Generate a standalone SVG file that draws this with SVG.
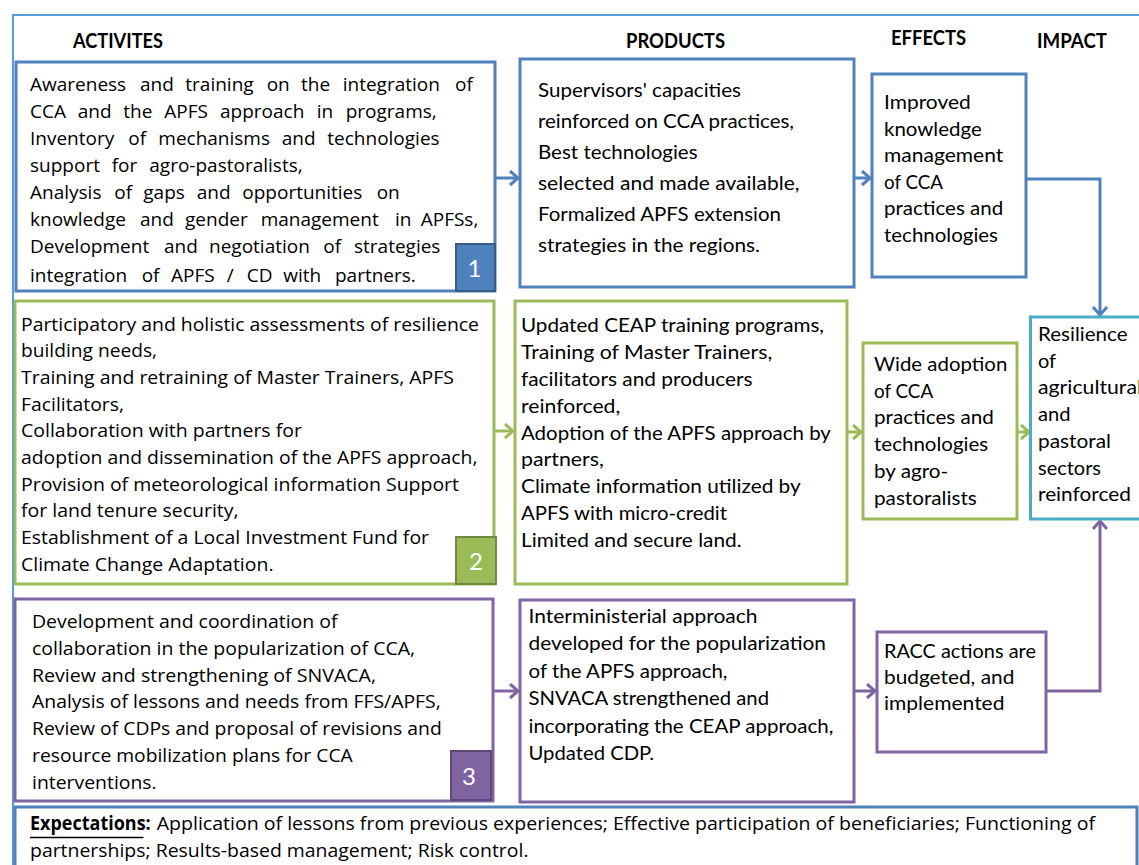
<svg xmlns="http://www.w3.org/2000/svg" width="1139" height="865" viewBox="0 0 1139 865">
<style>
.os{font-family:"Open Sans","DejaVu Sans",sans-serif;font-size:19px;fill:#000}
.cb{font-family:Lato,"Liberation Sans",sans-serif;font-size:20px;fill:#000}
.hd{font-family:Lato,"Liberation Sans",sans-serif;font-size:20px;font-weight:bold;fill:#000}
.num{font-family:Lato,"Liberation Sans",sans-serif;font-size:24px;fill:#fff;text-anchor:middle}
.box{fill:#fff;stroke-width:3}
.blue{stroke:#4f81bd}
.green{stroke:#9bbb59}
.purple{stroke:#8064a2}
.cyan{stroke:#4bacc6}
.con{fill:none;stroke-width:3}
</style>
<defs>
<marker id="aB" markerUnits="userSpaceOnUse" markerWidth="14" markerHeight="18" refX="9" refY="8" orient="auto" viewBox="0 0 14 18"><path d="M1,1 L9,8 L1,15" fill="none" stroke="#4f81bd" stroke-width="3"/></marker>
<marker id="aG" markerUnits="userSpaceOnUse" markerWidth="14" markerHeight="18" refX="9" refY="8" orient="auto" viewBox="0 0 14 18"><path d="M1,1 L9,8 L1,15" fill="none" stroke="#9bbb59" stroke-width="3"/></marker>
<marker id="aP" markerUnits="userSpaceOnUse" markerWidth="14" markerHeight="18" refX="9" refY="8" orient="auto" viewBox="0 0 14 18"><path d="M1,1 L9,8 L1,15" fill="none" stroke="#8064a2" stroke-width="3"/></marker>
</defs>
<rect width="1139" height="865" fill="#fff"/>
<g id="frame"><path d="M13,866 V15 H1140" fill="none" stroke="#5b9bd5" stroke-width="2"/></g>

<g id="headers">
<text class="hd" x="73" y="48.3" textLength="90" lengthAdjust="spacingAndGlyphs">ACTIVITES</text>
<text class="hd" x="626" y="48.3" textLength="99" lengthAdjust="spacingAndGlyphs">PRODUCTS</text>
<text class="hd" x="891" y="45" textLength="75" lengthAdjust="spacingAndGlyphs">EFFECTS</text>
<text class="hd" x="1037" y="48.3" textLength="70" lengthAdjust="spacingAndGlyphs">IMPACT</text>
</g>

<g id="connectors">
<path class="con blue" d="M495,178 H518" marker-end="url(#aB)"/>
<path class="con blue" d="M854,178 H870" marker-end="url(#aB)"/>
<path class="con blue" d="M1026,179 H1100 V315" marker-end="url(#aB)"/>
<path class="con green" d="M494,431 H513" marker-end="url(#aG)"/>
<path class="con green" d="M847,432 H861" marker-end="url(#aG)"/>
<path class="con green" d="M1017,432 H1029" marker-end="url(#aG)"/>
<path class="con purple" d="M493,691 H518" marker-end="url(#aP)"/>
<path class="con purple" d="M854,691 H875" marker-end="url(#aP)"/>
<path class="con purple" d="M1046,691 H1100 V521" marker-end="url(#aP)"/>
</g>

<g id="activity1">
<rect class="box blue" x="16" y="62" width="479" height="229"/>
<text class="os" y="91"><tspan x="30">Awareness</tspan><tspan x="140">and</tspan><tspan x="185.3">training</tspan><tspan x="266.7">on</tspan><tspan x="301">the</tspan><tspan x="342.7">integration</tspan><tspan x="455">of</tspan></text>
<text class="os" y="118.3"><tspan x="30">CCA</tspan><tspan x="77.7">and</tspan><tspan x="123.3">the</tspan><tspan x="164.3">APFS</tspan><tspan x="220">approach</tspan><tspan x="316.7">in</tspan><tspan x="345.7">programs,</tspan></text>
<text class="os" y="145"><tspan x="30">Inventory</tspan><tspan x="128.3">of</tspan><tspan x="158.3">mechanisms</tspan><tspan x="281.7">and</tspan><tspan x="327.3">technologies</tspan></text>
<text class="os" y="172.3"><tspan x="30">support</tspan><tspan x="111.7">for</tspan><tspan x="149.3">agro-pastoralists,</tspan></text>
<text class="os" y="199.3"><tspan x="30">Analysis</tspan><tspan x="114.3">of</tspan><tspan x="143.3">gaps</tspan><tspan x="196.7">and</tspan><tspan x="242.3">opportunities</tspan><tspan x="376.7">on</tspan></text>
<text class="os" y="226"><tspan x="30">knowledge</tspan><tspan x="140">and</tspan><tspan x="185">gender</tspan><tspan x="260.7">management</tspan><tspan x="395">in</tspan><tspan x="420.7">APFSs,</tspan></text>
<text class="os" y="252.7"><tspan x="30">Development</tspan><tspan x="164">and</tspan><tspan x="209">negotiation</tspan><tspan x="323.3">of</tspan><tspan x="354">strategies</tspan></text>
<text class="os" y="282"><tspan x="30">integration</tspan><tspan x="141.7">of</tspan><tspan x="171">APFS</tspan><tspan x="226.7">/</tspan><tspan x="246.7">CD</tspan><tspan x="283.3">with</tspan><tspan x="335">partners.</tspan></text>
<rect x="456" y="244" width="39" height="47" fill="#4f81bd" stroke="#385d8a" stroke-width="2"/>
<text class="num" x="474.5" y="277">1</text>
</g>

<g id="activity2">
<rect class="box green" x="15" y="301" width="479" height="283"/>
<text class="os" x="21" y="330.5" textLength="458" lengthAdjust="spacingAndGlyphs">Participatory and holistic assessments of resilience</text>
<text class="os" x="21" y="357.2" textLength="136" lengthAdjust="spacingAndGlyphs">building needs,</text>
<text class="os" x="21" y="383.9" textLength="433" lengthAdjust="spacingAndGlyphs">Training and retraining of Master Trainers, APFS</text>
<text class="os" x="21" y="410.6" textLength="103" lengthAdjust="spacingAndGlyphs">Facilitators,</text>
<text class="os" x="21" y="437.3" textLength="281" lengthAdjust="spacingAndGlyphs">Collaboration with partners for</text>
<text class="os" x="21" y="464" textLength="456.5" lengthAdjust="spacingAndGlyphs">adoption and dissemination of the APFS approach,</text>
<text class="os" x="21" y="490.7" textLength="438" lengthAdjust="spacingAndGlyphs">Provision of meteorological information Support</text>
<text class="os" x="21" y="517.4" textLength="217.5" lengthAdjust="spacingAndGlyphs">for land tenure security,</text>
<text class="os" x="21" y="544.1" textLength="408" lengthAdjust="spacingAndGlyphs">Establishment of a Local Investment Fund for</text>
<text class="os" x="21" y="570.8" textLength="252.5" lengthAdjust="spacingAndGlyphs">Climate Change Adaptation.</text>
<rect x="456" y="537" width="40" height="47" fill="#9bbb59" stroke="#71893f" stroke-width="2"/>
<text class="num" x="476" y="570">2</text>
</g>

<g id="activity3">
<rect class="box purple" x="15" y="599" width="478" height="202"/>
<text class="os" x="32" y="628.3" textLength="305.5" lengthAdjust="spacingAndGlyphs">Development and coordination of</text>
<text class="os" x="32" y="655" textLength="383" lengthAdjust="spacingAndGlyphs">collaboration in the popularization of CCA,</text>
<text class="os" x="32" y="681.7" textLength="344" lengthAdjust="spacingAndGlyphs">Review and strengthening of SNVACA,</text>
<text class="os" x="32" y="708.4" textLength="408.7" lengthAdjust="spacingAndGlyphs">Analysis of lessons and needs from FFS/APFS,</text>
<text class="os" x="32" y="735.1" textLength="409.7" lengthAdjust="spacingAndGlyphs">Review of CDPs and proposal of revisions and</text>
<text class="os" x="32" y="761.8" textLength="320.7" lengthAdjust="spacingAndGlyphs">resource mobilization plans for CCA</text>
<text class="os" x="32" y="788.5" textLength="124.7" lengthAdjust="spacingAndGlyphs">interventions.</text>
<rect x="451" y="751" width="40" height="49" fill="#8064a2" stroke="#5c4776" stroke-width="2"/>
<text class="num" x="469" y="785">3</text>
</g>

<g id="product1">
<rect class="box blue" x="520" y="59" width="334" height="228"/>
<text class="cb" x="538" y="96.7" textLength="203" lengthAdjust="spacingAndGlyphs">Supervisors' capacities</text>
<text class="cb" x="538" y="127.8" textLength="256" lengthAdjust="spacingAndGlyphs">reinforced on CCA practices,</text>
<text class="cb" x="538" y="158.9" textLength="159.6" lengthAdjust="spacingAndGlyphs">Best technologies</text>
<text class="cb" x="538" y="190" textLength="261.5" lengthAdjust="spacingAndGlyphs">selected and made available,</text>
<text class="cb" x="538" y="221.1" textLength="243" lengthAdjust="spacingAndGlyphs">Formalized APFS extension</text>
<text class="cb" x="538" y="252.2" textLength="222" lengthAdjust="spacingAndGlyphs">strategies in the regions.</text>
</g>

<g id="effect1">
<rect class="box blue" x="872" y="74" width="154" height="203"/>
<text class="cb" x="884" y="109" textLength="86.7" lengthAdjust="spacingAndGlyphs">Improved</text>
<text class="cb" x="884" y="135.5" textLength="97.7" lengthAdjust="spacingAndGlyphs">knowledge</text>
<text class="cb" x="884" y="162" textLength="119.3" lengthAdjust="spacingAndGlyphs">management</text>
<text class="cb" x="884" y="188.5" textLength="59" lengthAdjust="spacingAndGlyphs">of CCA</text>
<text class="cb" x="884" y="215" textLength="119.3" lengthAdjust="spacingAndGlyphs">practices and</text>
<text class="cb" x="884" y="241.5" textLength="114" lengthAdjust="spacingAndGlyphs">technologies</text>
</g>

<g id="product2">
<rect class="box green" x="515" y="301" width="332" height="283"/>
<text class="cb" x="521" y="332.3" textLength="303" lengthAdjust="spacingAndGlyphs">Updated CEAP training programs,</text>
<text class="cb" x="521" y="359.1" textLength="251.2" lengthAdjust="spacingAndGlyphs">Training of Master Trainers,</text>
<text class="cb" x="521" y="385.9" textLength="231.6" lengthAdjust="spacingAndGlyphs">facilitators and producers</text>
<text class="cb" x="521" y="412.7" textLength="99.2" lengthAdjust="spacingAndGlyphs">reinforced,</text>
<text class="cb" x="521" y="439.5" textLength="309.9" lengthAdjust="spacingAndGlyphs">Adoption of the APFS approach by</text>
<text class="cb" x="521" y="466.3" textLength="82.9" lengthAdjust="spacingAndGlyphs">partners,</text>
<text class="cb" x="521" y="493.1" textLength="279.7" lengthAdjust="spacingAndGlyphs">Climate information utilized by</text>
<text class="cb" x="521" y="519.9" textLength="206" lengthAdjust="spacingAndGlyphs">APFS with micro-credit</text>
<text class="cb" x="521" y="546.7" textLength="220.6" lengthAdjust="spacingAndGlyphs">Limited and secure land.</text>
</g>

<g id="effect2">
<rect class="box green" x="863" y="343" width="154" height="176"/>
<text class="cb" x="874" y="371" textLength="133.3" lengthAdjust="spacingAndGlyphs">Wide adoption</text>
<text class="cb" x="874" y="397.7" textLength="59.2" lengthAdjust="spacingAndGlyphs">of CCA</text>
<text class="cb" x="874" y="424.4" textLength="119.9" lengthAdjust="spacingAndGlyphs">practices and</text>
<text class="cb" x="874" y="451.1" textLength="114.2" lengthAdjust="spacingAndGlyphs">technologies</text>
<text class="cb" x="874" y="477.8" textLength="74.2" lengthAdjust="spacingAndGlyphs">by agro-</text>
<text class="cb" x="874" y="504.5" textLength="102.8" lengthAdjust="spacingAndGlyphs">pastoralists</text>
</g>

<g id="impact">
<rect class="box cyan" x="1030.5" y="317" width="130" height="202"/>
<text class="cb" x="1038" y="341" textLength="89.5" lengthAdjust="spacingAndGlyphs">Resilience</text>
<text class="cb" x="1038" y="367.7">of</text>
<text class="cb" x="1038" y="394.4" textLength="104" lengthAdjust="spacingAndGlyphs">agricultural</text>
<text class="cb" x="1038" y="421.1" textLength="32.5" lengthAdjust="spacingAndGlyphs">and</text>
<text class="cb" x="1038" y="447.8" textLength="73" lengthAdjust="spacingAndGlyphs">pastoral</text>
<text class="cb" x="1038" y="474.5" textLength="63" lengthAdjust="spacingAndGlyphs">sectors</text>
<text class="cb" x="1038" y="501.2" textLength="92.8" lengthAdjust="spacingAndGlyphs">reinforced</text>
</g>

<g id="product3">
<rect class="box purple" x="520" y="600" width="334" height="202"/>
<text class="cb" x="528.5" y="622.7" textLength="229" lengthAdjust="spacingAndGlyphs">Interministerial approach</text>
<text class="cb" x="528.5" y="650.2" textLength="297.5" lengthAdjust="spacingAndGlyphs">developed for the popularization</text>
<text class="cb" x="528.5" y="677.7" textLength="199" lengthAdjust="spacingAndGlyphs">of the APFS approach,</text>
<text class="cb" x="528.5" y="705.2" textLength="240.5" lengthAdjust="spacingAndGlyphs">SNVACA strengthened and</text>
<text class="cb" x="528.5" y="732.7" textLength="304.8" lengthAdjust="spacingAndGlyphs">incorporating the CEAP approach,</text>
<text class="cb" x="528.5" y="760.2" textLength="125.5" lengthAdjust="spacingAndGlyphs">Updated CDP.</text>
</g>

<g id="effect3">
<rect class="box purple" x="877" y="632" width="169" height="120"/>
<text class="cb" x="884" y="657.7" textLength="151.9" lengthAdjust="spacingAndGlyphs">RACC actions are</text>
<text class="cb" x="884" y="684" textLength="130.3" lengthAdjust="spacingAndGlyphs">budgeted, and</text>
<text class="cb" x="884" y="709.5" textLength="120.5" lengthAdjust="spacingAndGlyphs">implemented</text>
</g>

<g id="expectations">
<rect class="box blue" x="15" y="807" width="1122" height="80"/>
<text class="os" x="30" y="830" font-weight="bold" textLength="120.7" lengthAdjust="spacingAndGlyphs">Expectations:</text>
<line x1="30" y1="837.5" x2="143.5" y2="837.5" stroke="#000" stroke-width="1.5"/>
<text class="os" x="156.7" y="830" textLength="938.3" lengthAdjust="spacingAndGlyphs">Application of lessons from previous experiences; Effective participation of beneficiaries; Functioning of</text>
<text class="os" x="30" y="857" textLength="498.5" lengthAdjust="spacingAndGlyphs">partnerships; Results-based management; Risk control.</text>
</g>
</svg>
